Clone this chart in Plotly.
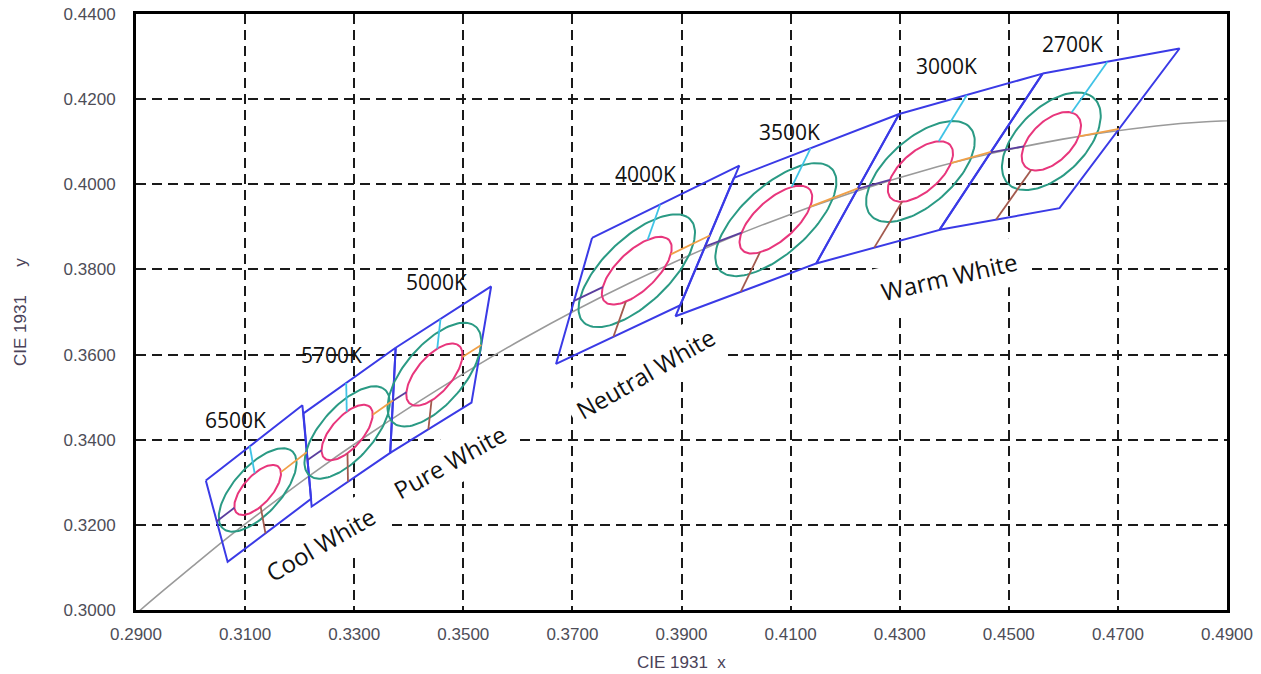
import numpy as np
import plotly.graph_objects as go

# ---------------- data ----------------
cct_labels = ["6500K", "5700K", "5000K", "4000K", "3500K", "3000K", "2700K"]
center_x = [0.3123, 0.3287, 0.3447, 0.3818, 0.4073, 0.4338, 0.4578]
center_y = [0.3282, 0.3417, 0.3553, 0.3797, 0.3917, 0.4030, 0.4101]

# quadrangle corners: top-left, top-right, bottom-right, bottom-left
quad_tl_x = [0.3028, 0.3207, 0.3376, 0.3736, 0.3996, 0.4299, 0.4562]
quad_tl_y = [0.3304, 0.3462, 0.3616, 0.3874, 0.4015, 0.4165, 0.4260]
quad_tr_x = [0.3205, 0.3376, 0.3551, 0.4006, 0.4299, 0.4562, 0.4813]
quad_tr_y = [0.3481, 0.3616, 0.3760, 0.4044, 0.4165, 0.4260, 0.4319]
quad_br_x = [0.3221, 0.3366, 0.3515, 0.3898, 0.4147, 0.4373, 0.4593]
quad_br_y = [0.3261, 0.3369, 0.3487, 0.3716, 0.3814, 0.3893, 0.3944]
quad_bl_x = [0.3068, 0.3222, 0.3366, 0.3670, 0.3889, 0.4147, 0.4373]
quad_bl_y = [0.3113, 0.3243, 0.3369, 0.3578, 0.3690, 0.3814, 0.3893]

# one-step MacAdam ellipse parameters
ell_a = [0.00223, 0.00246, 0.00274, 0.00313, 0.00317, 0.00278, 0.00258]
ell_b = [0.00095, 0.00105, 0.00118, 0.00134, 0.00139, 0.00136, 0.00137]
ell_theta = [58.23, 58.60, 59.62, 54.00, 52.58, 53.13, 57.17]
outer_steps = 5
inner_steps = 3

# Planckian locus (CIE 1931 x, y)
locus_x = [0.2868, 0.2908, 0.2952, 0.3004, 0.3064, 0.3135, 0.3221, 0.3325,
           0.3451, 0.3608, 0.3805, 0.4053, 0.4369, 0.4599, 0.4770, 0.4862, 0.5020]
locus_y = [0.2954, 0.3000, 0.3048, 0.3103, 0.3166, 0.3236, 0.3318, 0.3411,
           0.3516, 0.3636, 0.3768, 0.3907, 0.4041, 0.4106, 0.4137, 0.4147, 0.4154]

group_labels = ["Cool White", "Pure White", "Neutral White", "Warm White"]

x_ticks = [0.29, 0.31, 0.33, 0.35, 0.37, 0.39, 0.41, 0.43, 0.45, 0.47, 0.49]
y_ticks = [0.30, 0.32, 0.34, 0.36, 0.38, 0.40, 0.42, 0.44]

x_title = "CIE 1931\u00a0\u00a0x"
y_title = "CIE 1931" + "\u00a0" * 6 + "y"

# label positions (data coordinates) — layout only
cct_label_pos = [(0.30833, 0.34469), (0.32575, 0.35995), (0.34500, 0.37709),
                 (0.38331, 0.40244), (0.40971, 0.41230), (0.43867, 0.42779),
                 (0.46159, 0.43296)]
group_label_pos = [(0.32373, 0.31535, -30), (0.34756, 0.33484, -29),
                   (0.38331, 0.35549, -30), (0.43904, 0.37826, -13)]

# ---------------- helpers ----------------
def unit(v):
    v = np.asarray(v, float)
    return v / np.linalg.norm(v)

def ray_line(c, d, p1, p2):
    m = np.array([[d[0], -(p2[0] - p1[0])], [d[1], -(p2[1] - p1[1])]])
    rhs = np.array([p1[0] - c[0], p1[1] - c[1]])
    t, s = np.linalg.solve(m, rhs)
    return c + t * d

def ellipse_pts(cx, cy, a, b, th, n=120):
    t = np.linspace(0, 2 * np.pi, n)
    ct, st = np.cos(np.radians(th)), np.sin(np.radians(th))
    ex = cx + a * np.cos(t) * ct - b * np.sin(t) * st
    ey = cy + a * np.cos(t) * st + b * np.sin(t) * ct
    return ex, ey

def ellipse_hit(c, d, a, b, th):
    ct, st = np.cos(np.radians(th)), np.sin(np.radians(th))
    du = d[0] * ct + d[1] * st
    dv = -d[0] * st + d[1] * ct
    q = (du / a) ** 2 + (dv / b) ** 2
    return c + d / np.sqrt(q)

fig = go.Figure()

# Planckian locus
fig.add_trace(go.Scatter(x=locus_x, y=locus_y, mode="lines",
                         line=dict(color="#9a9a9a", width=1.6, shape="spline"),
                         hoverinfo="skip", showlegend=False))

# quadrangles
qx, qy = [], []
for i in range(len(cct_labels)):
    qx += [quad_tl_x[i], quad_tr_x[i], quad_br_x[i], quad_bl_x[i], quad_tl_x[i], None]
    qy += [quad_tl_y[i], quad_tr_y[i], quad_br_y[i], quad_bl_y[i], quad_tl_y[i], None]
fig.add_trace(go.Scatter(x=qx, y=qy, mode="lines",
                         line=dict(color="#3a3ae6", width=2),
                         hoverinfo="skip", showlegend=False))

# ellipses
for steps, color in [(outer_steps, "#2a9a84"), (inner_steps, "#e8367c")]:
    ex_all, ey_all = [], []
    for i in range(len(cct_labels)):
        ex, ey = ellipse_pts(center_x[i], center_y[i], ell_a[i] * steps,
                             ell_b[i] * steps, ell_theta[i])
        ex_all += list(ex) + [None]
        ey_all += list(ey) + [None]
    fig.add_trace(go.Scatter(x=ex_all, y=ey_all, mode="lines",
                             line=dict(color=color, width=2),
                             hoverinfo="skip", showlegend=False))

# cross segments from inner ellipse to quadrangle edges
seg = {"top": ([], []), "bottom": ([], []), "left": ([], []), "right": ([], [])}
for i in range(len(cct_labels)):
    c = np.array([center_x[i], center_y[i]])
    tl = np.array([quad_tl_x[i], quad_tl_y[i]])
    tr = np.array([quad_tr_x[i], quad_tr_y[i]])
    br = np.array([quad_br_x[i], quad_br_y[i]])
    bl = np.array([quad_bl_x[i], quad_bl_y[i]])
    d_iso = unit(unit(tl - bl) + unit(tr - br))
    d_mid = unit(unit(tr - tl) + unit(br - bl))
    a3, b3 = ell_a[i] * inner_steps, ell_b[i] * inner_steps
    for key, d, p1, p2 in [("top", d_iso, tl, tr), ("bottom", -d_iso, bl, br),
                           ("left", -d_mid, bl, tl), ("right", d_mid, br, tr)]:
        start = ellipse_hit(c, d, a3, b3, ell_theta[i])
        end = ray_line(c, d, p1, p2)
        seg[key][0].extend([start[0], end[0], None])
        seg[key][1].extend([start[1], end[1], None])

seg_colors = {"top": "#3fc3e6", "bottom": "#a35a4e", "left": "#5a3e9e", "right": "#f0a048"}
for key, (sx, sy) in seg.items():
    fig.add_trace(go.Scatter(x=sx, y=sy, mode="lines",
                             line=dict(color=seg_colors[key], width=1.8),
                             hoverinfo="skip", showlegend=False))

# CCT labels
for lab, (lx, ly) in zip(cct_labels, cct_label_pos):
    fig.add_annotation(x=lx, y=ly, text=lab, showarrow=False,
                       font=dict(family="Open Sans", size=21, color="#111111"),
                       xanchor="center", yanchor="middle")

# group labels
for lab, (lx, ly, ang) in zip(group_labels, group_label_pos):
    fig.add_annotation(x=lx, y=ly, text=lab, showarrow=False, textangle=ang,
                       font=dict(family="Open Sans", size=24, color="#111111"),
                       bgcolor="white", borderpad=7,
                       xanchor="center", yanchor="middle")

# axis titles
title_font = dict(family="Liberation Sans", size=17, color="#4a4258")
fig.add_annotation(x=0.5, y=0, xref="paper", yref="paper", text=x_title,
                   showarrow=False, xanchor="center", yanchor="middle",
                   yshift=-52, font=title_font)
fig.add_annotation(x=0, y=0.5, xref="paper", yref="paper", text=y_title,
                   showarrow=False, xanchor="center", yanchor="middle",
                   textangle=-90, xshift=-116, font=title_font)

axis_common = dict(
    showgrid=True, gridcolor="#1a1a1a", gridwidth=1.6, griddash="10px,6px",
    showline=True, linecolor="black", linewidth=3, mirror=True,
    zeroline=False, ticks="", tickformat=".4f",
    tickfont=dict(family="Liberation Sans", size=17, color="#4d4d57"),
    automargin=False,
)

fig.update_layout(
    width=1261, height=674,
    margin=dict(l=136, r=34, t=14, b=64),
    paper_bgcolor="white", plot_bgcolor="white",
    xaxis=dict(range=[0.29, 0.49], tickvals=x_ticks, ticklabelstandoff=7,
               **axis_common),
    yaxis=dict(range=[0.30, 0.44], tickvals=y_ticks, ticklabelstandoff=14,
               **axis_common),
)

fig.write_html("out.html")
